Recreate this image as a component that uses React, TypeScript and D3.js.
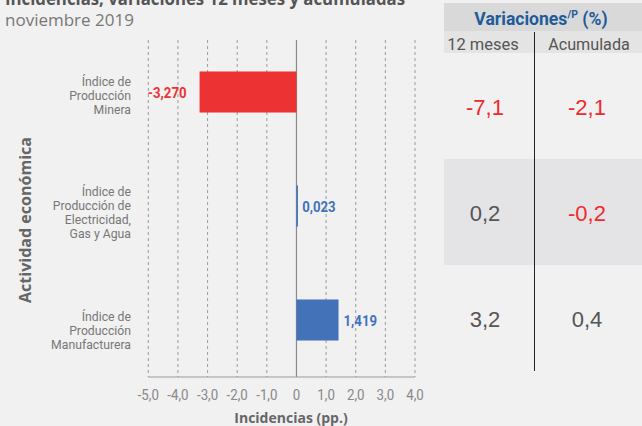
import React from "react";
import * as d3 from "d3";

const categories = [
  ["Índice de", "Producción", "Minera"],
  ["Índice de", "Producción de", "Electricidad,", "Gas y Agua"],
  ["Índice de", "Producción", "Manufacturera"],
];
const incidencias = [-3.27, 0.023, 1.419];
const incidenciaLabels = ["-3,270", "0,023", "1,419"];
const var12 = ["-7,1", "0,2", "3,2"];
const varAcum = ["-2,1", "-0,2", "0,4"];
const var12Neg = [true, false, false];
const varAcumNeg = [true, true, false];
const xTicks = [-5, -4, -3, -2, -1, 0, 1, 2, 3, 4];
const labelOffsets = [3, 6, 10];

const W = 642;
const H = 426;
const RED = "#ec3232";
const BLUE = "#4472b8";
const COND = "Roboto, 'Noto Sans', sans-serif";
const SANS = "'Open Sans', 'Noto Sans', sans-serif";
const HELV = "'Liberation Sans', Arial, sans-serif";

function NText({
  x,
  y,
  sx = 0.88,
  anchor = "start",
  children,
  ...rest
}: any) {
  return (
    <g transform={`translate(${x},${y}) scale(${sx},1)`}>
      <text x={0} y={0} textAnchor={anchor} fontFamily={COND} {...rest}>
        {children}
      </text>
    </g>
  );
}

export default function App() {
  const x = d3.scaleLinear().domain([-5, 4]).range([148.3, 415]);
  const y = d3
    .scaleBand<number>()
    .domain(d3.range(categories.length))
    .range([35, 377])
    .paddingInner(0.64)
    .paddingOuter(0.32);
  const fmt = (v: number) => (v === 0 ? "0" : v.toFixed(1).replace(".", ","));
  const rowTop = 53;
  const rowH = 106;

  return (
    <svg
      width={W}
      height={H}
      style={{ position: "absolute", left: 0, top: 0, background: "#f1f1f1" }}
    >
      <rect x={0} y={0} width={W} height={H} fill="#f1f1f1" />
      {/* title */}
      <text x={5} y={5} fontFamily={SANS} fontWeight={700} fontSize={17} fill="#555" textLength={400} lengthAdjust="spacingAndGlyphs">
        Incidencias, variaciones 12 meses y acumuladas
      </text>
      <text x={5} y={26} fontFamily={SANS} fontSize={17} fill="#777">
        noviembre 2019
      </text>

      {/* grid */}
      {xTicks.map((t) => (
        <line
          key={t}
          x1={x(t)}
          x2={x(t)}
          y1={40}
          y2={377}
          stroke={t === 0 ? "#8a8a8a" : "#9a9a9a"}
          strokeWidth={t === 0 ? 1.2 : 1}
          strokeDasharray={t === 0 ? undefined : "3,3"}
        />
      ))}
      <line x1={x(-5)} x2={x(4)} y1={377} y2={377} stroke="#9a9a9a" strokeWidth={1} />
      {xTicks.map((t) => (
        <NText key={"l" + t} x={x(t)} y={399.5} anchor="middle" fontSize={14} sx={0.95} fill="#888">
          {fmt(t)}
        </NText>
      ))}
      <text x={291} y={423} textAnchor="middle" fontFamily={SANS} fontWeight={700} fontSize={14} fill="#666">
        Incidencias (pp.)
      </text>

      {/* y title */}
      <text
        transform={`translate(31,220) rotate(-90)`}
        textAnchor="middle"
        fontFamily={SANS}
        fontWeight={700}
        fontSize={16}
        fill="#666"
        textLength={166}
        lengthAdjust="spacingAndGlyphs"
      >
        Actividad económica
      </text>

      {/* bars */}
      {incidencias.map((v, i) => {
        const by = y(i)!;
        const bh = y.bandwidth();
        const x0 = x(Math.min(0, v));
        const x1 = x(Math.max(0, v));
        const color = v < 0 ? RED : BLUE;
        return (
          <g key={i}>
            <rect x={x0} y={by} width={Math.max(1.5, x1 - x0)} height={bh} fill={color} />
            <NText
              x={v < 0 ? x0 - 13 : x1 + 5}
              y={by + bh / 2 + 5.5}
              anchor={v < 0 ? "end" : "start"}
              fontWeight={700}
              fontSize={15}
              fill={color}
            >
              {incidenciaLabels[i]}
            </NText>
          </g>
        );
      })}

      {/* category labels */}
      {categories.map((lines, i) => {
        const c = y(i)! + y.bandwidth() / 2 + labelOffsets[i];
        const lh = 14;
        const start = c - ((lines.length - 1) * lh) / 2;
        return (
          <g key={"c" + i}>
            {lines.map((ln, j) => (
              <NText key={j} x={131} y={start + j * lh + 5} anchor="end" fontSize={13.6} sx={0.9} fill="#777">
                {ln}
              </NText>
            ))}
          </g>
        );
      })}

      {/* right table */}
      <rect x={444} y={3} width={W - 444} height={28} fill="#d9d9d9" />
      <rect x={444} y={31} width={W - 444} height={22} fill="#e4e4e4" />
      <NText x={541} y={25} anchor="middle" fontWeight={700} fontSize={18.5} sx={0.95} fill="#1f5b99">
        Variaciones
        <tspan fontSize={11} dy={-7}>/P</tspan>
        <tspan dy={7}> (%)</tspan>
      </NText>
      <NText x={483} y={50} anchor="middle" fontSize={16.5} sx={1} fill="#555">
        12 meses
      </NText>
      <NText x={589} y={50} anchor="middle" fontSize={16.5} sx={0.98} fill="#555">
        Acumulada
      </NText>
      <rect x={444} y={rowTop + rowH} width={W - 444} height={rowH} fill="#e4e4e6" />
      <line x1={534.5} x2={534.5} y1={32} y2={371} stroke="#222" strokeWidth={1} />
      {var12.map((v, i) => (
        <text key={"a" + i} x={485} y={rowTop + rowH * i + rowH / 2 + 9} textAnchor="middle" fontFamily={HELV} fontSize={22} fill={var12Neg[i] ? "#ee2a2e" : "#555"}>
          {v}
        </text>
      ))}
      {varAcum.map((v, i) => (
        <text key={"b" + i} x={587} y={rowTop + rowH * i + rowH / 2 + 9} textAnchor="middle" fontFamily={HELV} fontSize={22} fill={varAcumNeg[i] ? "#ee2a2e" : "#555"}>
          {v}
        </text>
      ))}
    </svg>
  );
}
